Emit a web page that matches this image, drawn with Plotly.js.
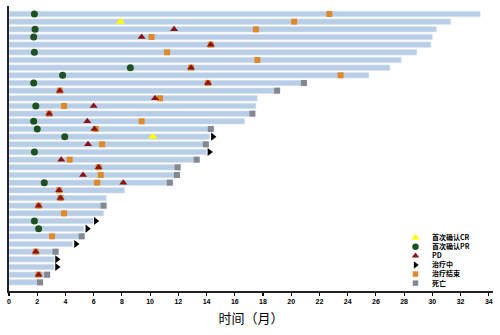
<!DOCTYPE html>
<html><head><meta charset="utf-8">
<script src="https://cdn.plot.ly/plotly-3.0.1.min.js"></script>
<style>body{margin:0;background:#fff}#c{width:500px;height:335px}</style>
</head><body><div id="c"></div>
<script>
// One entry per patient, top row first (null = no event)
const duration = [33.4,31.3,30.3,30.0,29.9,28.9,27.8,27.0,25.5,21.1,19.2,17.6,17.5,17.4,16.7,14.5,14.2,14.15,14.0,13.5,12.15,12.1,11.6,8.2,6.9,6.9,6.7,5.95,5.3,5.35,4.5,3.5,3.2,3.2,2.9,2.4];
const firstCR  = [null,7.9,null,null,null,null,null,null,null,null,null,null,null,null,null,null,10.2,null,null,null,null,null,null,null,null,null,null,null,null,null,null,null,null,null,null,null];
const firstPR  = [1.8,null,1.85,1.75,null,1.8,null,8.6,3.8,1.75,null,null,1.9,null,1.75,2.0,3.95,null,1.8,null,null,null,2.5,null,null,null,null,1.8,2.1,null,null,null,null,null,null,null];
const pdTime   = [null,null,11.7,9.4,14.3,null,null,12.9,null,14.1,3.6,10.35,6.0,2.85,5.55,6.05,null,5.6,null,3.7,6.35,5.25,8.1,3.55,3.65,2.1,null,null,null,null,null,1.9,null,null,2.1,null];
const ongoing  = [null,null,null,null,null,null,null,null,null,null,null,null,null,null,null,null,14.45,null,14.2,null,null,null,null,null,null,null,null,6.15,5.55,null,4.75,null,3.4,3.4,null,null];
const endTx    = [22.7,20.2,17.5,10.1,14.3,11.2,17.6,12.9,23.5,14.1,3.6,10.7,3.9,2.85,9.4,6.15,null,6.6,null,4.3,6.35,6.5,6.25,3.55,3.65,2.1,3.9,null,null,3.05,null,1.9,null,null,2.1,null];
const death    = [null,null,null,null,null,null,null,null,null,20.9,19.0,null,null,17.25,null,14.3,null,13.95,null,13.3,11.95,11.9,11.4,null,null,6.7,null,null,null,5.15,null,3.3,null,null,2.7,2.2];
const xTicks = [0,2,4,6,8,10,12,14,16,18,20,22,24,26,28,30,32,34];
const legendNames = ['首次确认CR','首次确认PR','PD','治疗中','治疗结束','死亡'];

const n = duration.length;
const rowY = duration.map((_, i) => n - i);
function pts(arr){ const x=[],y=[]; arr.forEach((v,i)=>{ if(v!==null){x.push(v);y.push(rowY[i]);} }); return {x,y}; }

const styles = {
  '首次确认CR':{symbol:'triangle-up', color:'#ffff00', size:8},
  '首次确认PR':{symbol:'circle', color:'#1e5120', size:7},
  'PD':{symbol:'triangle-up', color:'#8b1313', size:7},
  '治疗中':{symbol:'triangle-right', color:'#000000', size:7},
  '治疗结束':{symbol:'square', color:'#e0892c', size:6},
  '死亡':{symbol:'square', color:'#858890', size:6}
};

const bars = {type:'bar', orientation:'h', x:duration, y:rowY, width:0.72, base:0,
  marker:{color:'#b8cde6', line:{color:'#dbe5f1', width:0.6}}, showlegend:false, hoverinfo:'skip'};
function sc(arr, name){
  const p = pts(arr), s = styles[name];
  return {type:'scatter', mode:'markers', x:p.x, y:p.y, name:name, showlegend:false,
    marker:{symbol:s.symbol, color:s.color, size:s.size, line:{width:0}}};
}
const traces = [
  bars,
  sc(endTx,'治疗结束'),
  sc(death,'死亡'),
  sc(pdTime,'PD'),
  sc(firstPR,'首次确认PR'),
  sc(firstCR,'首次确认CR'),
  sc(ongoing,'治疗中')
];

// Manual legend on an overlay axis measured in pixels of the plot area
const legFont = 7, legDy = legFont*1.3;
const legX = 415.5, legTextX = 431, legCenter = 260.4;
const legY0 = legCenter - 2.5*legDy;
const legYs = legendNames.map((_, i) => legY0 + i*legDy);
legendNames.forEach((nm, i) => {
  const s = styles[nm];
  traces.push({type:'scatter', mode:'markers', xaxis:'x2', yaxis:'y2', x:[legX], y:[legYs[i]], showlegend:false,
    marker:{symbol:s.symbol, color:s.color, size:s.size-0.5, line:{width:0}}, hoverinfo:'skip'});
});
const annotations = [{
  xref:'x2', yref:'y2', x:legTextX, y:legCenter, text:legendNames.join('<br>'), showarrow:false,
  xanchor:'left', yanchor:'middle', align:'left', borderpad:0,
  font:{size:legFont, family:'Noto Sans CJK SC', weight:'bold', color:'#000'}
}];

const layout = {
  width:500, height:335, margin:{l:9,r:7,t:6,b:44},
  paper_bgcolor:'#fff', plot_bgcolor:'#fff', barmode:'overlay', showlegend:false,
  font:{family:'Liberation Sans, Arial, sans-serif', color:'#000'},
  xaxis:{range:[0,34.3], tickvals:xTicks, ticktext:xTicks.map(String), ticks:'outside', ticklen:3, tickwidth:1.2,
    tickcolor:'#000', showline:true, linecolor:'#222', linewidth:2, showgrid:false, zeroline:false,
    tickfont:{size:7, family:'Liberation Sans, Arial', weight:'bold'},
    title:{text:'时间（月）', font:{size:13, family:'Noto Sans CJK SC'}, standoff:9}},
  yaxis:{range:[-0.13,37.04], showticklabels:false, ticks:'', showline:true, linecolor:'#222', linewidth:2,
    showgrid:false, zeroline:false},
  xaxis2:{overlaying:'x', range:[9,493], visible:false, showgrid:false, zeroline:false},
  yaxis2:{overlaying:'y', range:[291,6], visible:false, showgrid:false, zeroline:false},
  annotations:annotations
};
Plotly.newPlot('c', traces, layout, {displayModeBar:false, staticPlot:true});
</script></body></html>
